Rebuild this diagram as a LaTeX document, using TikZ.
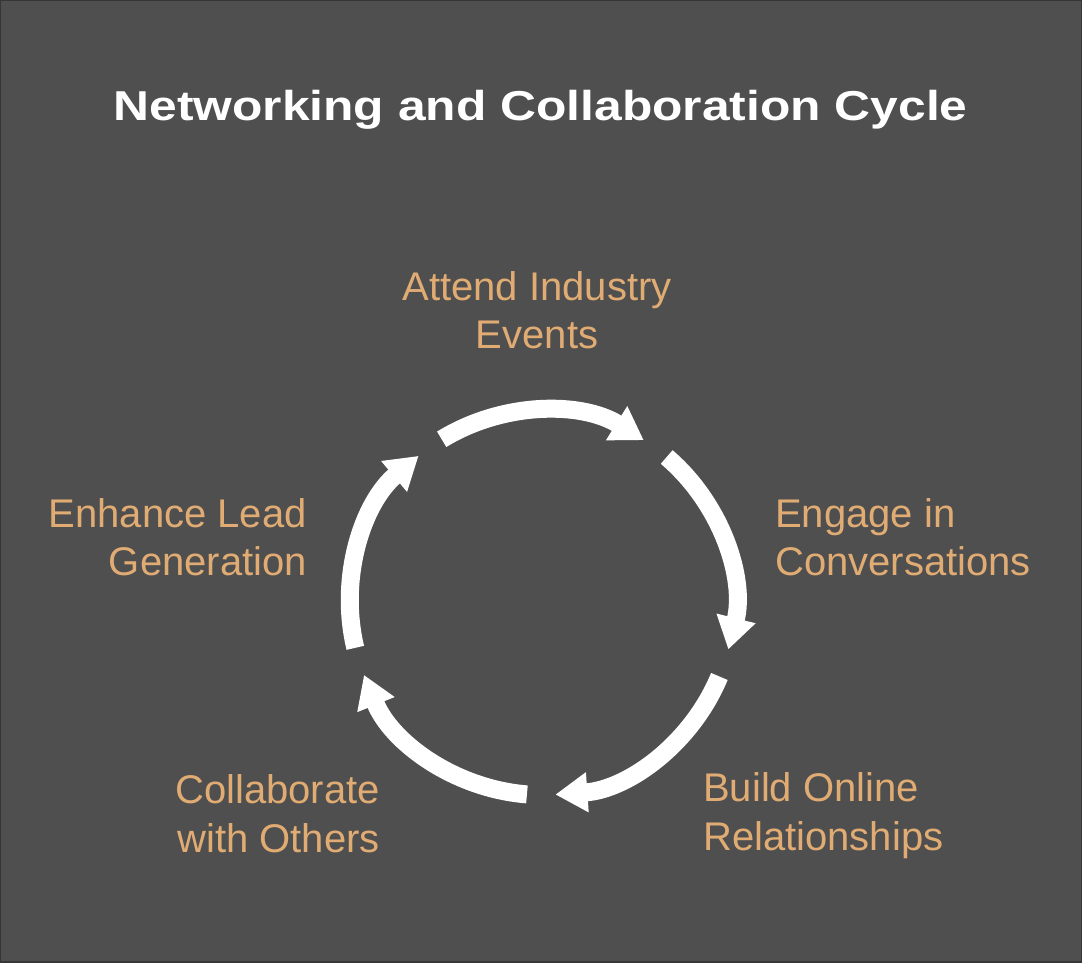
\documentclass[tikz,border=0pt]{standalone}
\usepackage{fontspec}
\setmainfont{Liberation Sans}
\newfontfamily\titlefont[FakeStretch=1.19]{Liberation Sans}
\usetikzlibrary{arrows.meta}
\definecolor{bg}{HTML}{4F4F4F}
\definecolor{rim}{HTML}{363636}
\definecolor{tan}{RGB}{224,172,116}
\tikzset{
  cyc/.style={draw=white, line width=18pt, -{Triangle[length=32pt,width=38pt]}},
  lbl/.style={text=tan, font=\fontsize{40}{48.5}\selectfont, inner sep=0pt},
  ttl/.style={text=white, font=\titlefont\bfseries\fontsize{41.8}{48}\selectfont, inner sep=0pt}
}
\begin{document}
\begin{tikzpicture}[x=1pt,y=1pt]
\useasboundingbox (0,0) rectangle (1082,962);
\fill[bg] (0,0) rectangle (1082,962);
\draw[rim, line width=2pt] (0,0) rectangle (1082,962);
\node[ttl, anchor=base] (title) at (540.5,841.3) {Networking and Collaboration Cycle};
\coordinate (c) at (542,359);
\foreach \a in {90,18,-54,-126,-198}{
  \draw[cyc] ([shift={(\a+31.5:192)}]c) arc[start angle=\a+31.5, end angle=\a-32, radius=192];
}
\node[lbl, align=center, anchor=base] (attend) at (537,613) {Attend Industry\\Events};
\node[lbl, align=left, anchor=base west] (engage) at (775,386) {Engage in\\Conversations};
\node[lbl, align=left, anchor=base west] (build) at (703,112) {Build Online\\Relationships};
\node[lbl, align=right, anchor=base east] (collab) at (380,110) {Collaborate\\with Others};
\node[lbl, align=right, anchor=base east] (enhance) at (307,386) {Enhance Lead\\Generation};
\end{tikzpicture}
\end{document}
